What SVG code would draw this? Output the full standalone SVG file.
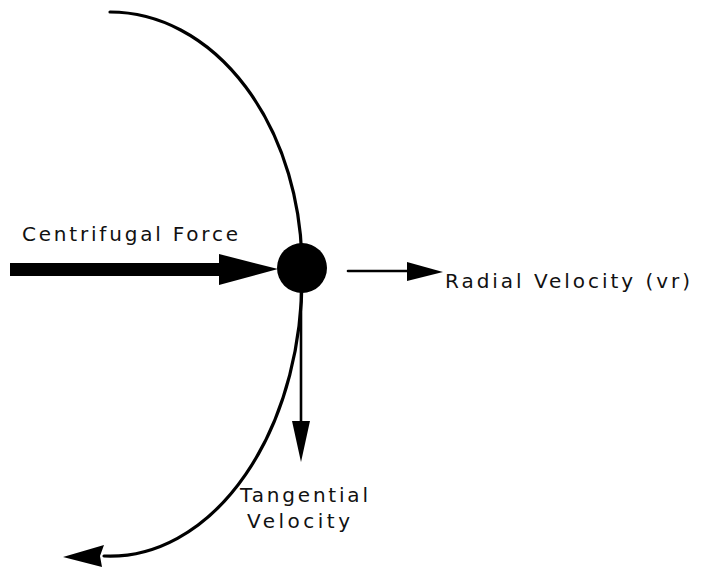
<svg xmlns="http://www.w3.org/2000/svg" width="701" height="567" viewBox="0 0 701 567">
<style>
.t{font-family:"DejaVu Sans","Liberation Sans",Arial,sans-serif;font-size:20px;fill:#111}
.ln{fill:none;stroke:#000;stroke-linecap:round}
.hd{fill:#000}
</style>
<rect width="701" height="567" fill="#fff"/>
<g id="connectors">
<path class="ln" stroke-width="3.2" d="M110,12 A192,256 0 0 1 302,268 A192,280 0 0 1 104,556"/>
<polygon class="hd" points="63,557 104,545 100,556 102,567"/>
<rect x="10" y="263" width="212" height="13" class="hd"/>
<polygon class="hd" points="219,254 278,269 219,285"/>
<line class="ln" stroke-width="2.6" x1="348" y1="271" x2="410" y2="271"/>
<polygon class="hd" points="407,262 443,272 407,281"/>
<line class="ln" stroke-width="2.6" x1="301" y1="290" x2="301" y2="425"/>
<polygon class="hd" points="292,421 310,421 301,462"/>
</g>
<g id="mass"><circle cx="302" cy="268" r="25" fill="#000"/></g>
<g id="labels">
<text class="t" x="22" y="241" textLength="216" lengthAdjust="spacing">Centrifugal Force</text>
<text class="t" x="445" y="288" textLength="245" lengthAdjust="spacing">Radial Velocity (vr)</text>
<text class="t" x="240" y="502" textLength="128" lengthAdjust="spacing">Tangential</text>
<text class="t" x="247" y="528" textLength="103" lengthAdjust="spacing">Velocity</text>
</g>
</svg>
